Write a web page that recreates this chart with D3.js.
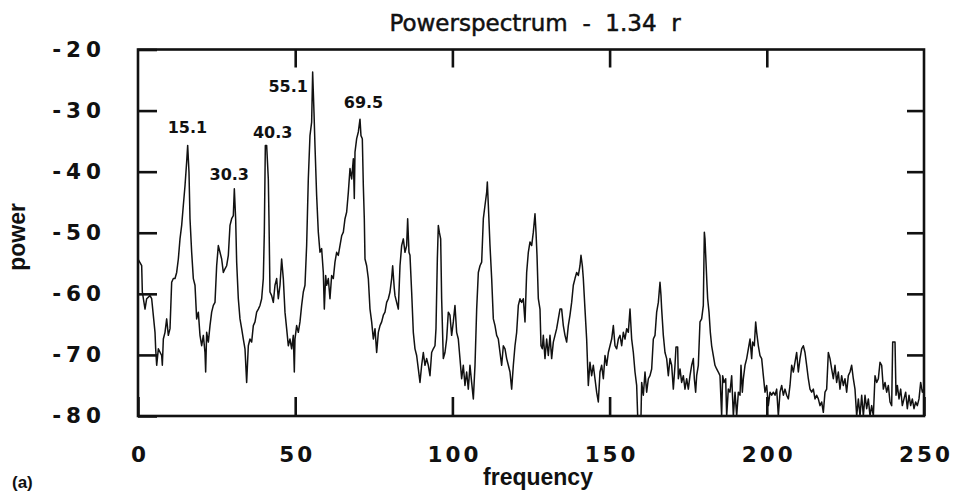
<!DOCTYPE html>
<html>
<head>
<meta charset="utf-8">
<script src="https://cdn.jsdelivr.net/npm/d3@7"></script>
<style>
  body { margin: 0; background: #fff; }
  svg { display: block; }
  .axis text { font-family: "DejaVu Sans"; font-weight: bold; fill: #111; }
  .axis line { stroke: #111; stroke-width: 2.6; }
</style>
</head>
<body>
<svg id="chart" width="954" height="498"></svg>
<script>
// tick values
const xTicks = [0, 50, 100, 150, 200, 250];
const yTicks = [-20, -30, -40, -50, -60, -70, -80];

// annotated peaks
const peakFreqs = [15.1, 30.3, 40.3, 55.1, 69.5];
const peakPowers = [-35.7, -42.8, -35.7, -23.7, -31.4];

// spectrum trace as [frequency, power] (dB)
const spec0to40 = [
  [0,-54.3],[1.17,-55.4],[1.38,-59.7],[2.23,-62.5],[2.76,-60.8],[3.82,-60.3],[4.35,-60.8],[5.41,-66.3],
  [5.62,-69.0],[5.94,-71.7],[6.47,-69.0],[7.53,-70.1],[7.74,-71.7],[8.06,-67.4],[8.59,-66.3],[9.12,-64.1],
  [9.65,-66.8],[10.18,-65.7],[10.71,-58.1],[11.24,-57.5],[11.77,-57.5],[12.30,-56.5],[12.83,-54.3],[13.36,-51.0],
  [13.89,-48.8],[14.42,-45.5],[14.95,-42.3],[15.48,-38.4],[15.80,-35.7],[16.22,-40.1],[16.54,-47.7],[17.07,-53.2],
  [17.60,-57.5],[18.13,-58.6],[18.66,-64.1],[19.19,-63.0],[19.72,-66.8],[20.25,-68.5],[20.78,-66.8],[21.31,-69.6],
  [21.52,-72.8],[21.84,-66.3],[22.37,-67.9],[22.90,-65.2],[23.43,-63.0],[23.96,-61.9],[24.49,-61.4],[25.02,-55.4],
  [25.55,-52.1],[26.08,-53.2],[26.61,-54.3],[27.14,-56.5],[27.67,-55.9],[28.20,-55.4],[28.73,-53.7],[29.26,-48.8],
  [29.79,-47.7],[30.32,-47.2],[30.64,-42.8],[31.06,-47.7],[31.38,-54.8],[31.91,-60.8],[32.44,-64.1],[32.97,-65.7],
  [33.50,-67.4],[34.03,-69.0],[34.56,-74.5],[35.09,-68.5],[35.62,-67.4],[36.15,-67.9],[36.68,-65.2],[37.21,-64.6],
  [37.74,-63.0],[38.27,-62.5],[38.80,-61.9],[39.33,-60.8],[39.86,-57.5],[40.18,-49.9],[40.50,-35.7]
];
const spec40to82 = [
  [40.92,-35.7],[41.45,-41.2],[41.66,-47.7],[41.98,-59.7],[42.51,-60.3],[43.04,-61.4],[43.57,-58.6],[44.10,-57.5],
  [44.63,-60.8],[45.16,-58.6],[45.69,-54.3],[46.22,-57.5],[46.75,-63.0],[47.28,-65.7],[47.81,-68.5],[48.34,-67.4],
  [48.87,-69.0],[49.40,-66.8],[49.72,-72.8],[49.93,-67.4],[50.46,-65.2],[50.99,-66.3],[51.52,-64.6],[52.05,-61.9],
  [52.58,-59.7],[53.11,-58.6],[53.64,-52.1],[54.17,-41.2],[54.70,-34.1],[55.23,-31.9],[55.55,-23.7],[55.98,-30.3],
  [56.29,-35.7],[56.82,-43.9],[57.35,-49.9],[57.88,-53.2],[58.41,-52.6],[58.94,-56.5],[59.26,-62.5],[59.69,-57.0],
  [60.00,-58.6],[60.53,-57.5],[61.06,-60.8],[61.59,-57.0],[62.12,-57.5],[62.65,-54.8],[63.18,-53.2],[63.71,-53.7],
  [64.24,-52.1],[64.78,-50.5],[65.31,-49.9],[65.84,-47.7],[66.37,-46.6],[66.90,-43.4],[67.43,-39.5],[67.96,-41.2],
  [68.49,-37.9],[68.80,-44.4],[69.02,-36.8],[69.55,-34.6],[70.08,-33.5],[70.61,-31.4],[70.92,-34.1],[71.35,-34.6],
  [71.67,-42.3],[71.98,-47.7],[72.20,-54.3],[72.73,-55.4],[73.26,-57.5],[73.79,-62.5],[74.32,-64.6],[74.85,-67.4],
  [75.38,-65.7],[75.91,-69.6],[76.44,-66.3],[76.97,-65.2],[77.50,-64.6],[78.03,-63.5],[78.56,-63.0],[79.09,-61.4],
  [79.62,-60.8],[80.15,-59.7],[80.68,-57.5],[81.00,-55.4],[81.53,-59.2]
];
const spec82to123 = [
  [81.74,-60.3],[82.27,-61.4],[82.80,-62.5],[83.33,-55.4],[83.86,-52.1],[84.39,-51.0],[84.92,-53.2],[85.45,-52.1],
  [85.77,-47.7],[86.19,-53.2],[86.51,-53.7],[87.04,-59.7],[87.57,-66.3],[88.10,-69.0],[88.63,-70.1],[89.16,-72.3],
  [89.69,-74.5],[90.22,-71.7],[90.75,-69.6],[91.28,-71.7],[91.81,-70.6],[92.34,-71.7],[92.87,-73.4],[93.40,-69.6],
  [93.93,-69.0],[94.46,-68.5],[94.78,-65.7],[95.21,-54.3],[95.52,-48.8],[95.84,-49.9],[96.27,-51.0],[96.58,-60.8],
  [97.11,-70.6],[97.64,-69.6],[98.17,-67.4],[98.70,-63.0],[99.23,-63.5],[99.76,-66.8],[100.29,-64.6],[100.82,-61.9],
  [101.35,-66.3],[101.88,-67.4],[102.41,-70.6],[102.94,-73.9],[103.47,-71.7],[104.00,-75.0],[104.53,-72.8],[105.06,-75.6],
  [105.59,-71.7],[106.12,-74.5],[106.66,-77.2],[107.19,-71.7],[107.72,-62.5],[108.25,-56.5],[108.78,-55.4],[109.31,-54.8],
  [109.84,-47.7],[110.37,-45.5],[110.90,-43.4],[111.11,-41.7],[111.43,-45.5],[111.96,-52.1],[112.49,-57.5],[113.02,-64.1],
  [113.55,-65.2],[114.08,-66.8],[114.61,-67.4],[115.14,-69.6],[115.67,-71.7],[116.20,-68.5],[116.73,-69.0],[117.26,-70.6],
  [117.79,-71.7],[118.32,-72.8],[118.85,-75.6],[119.38,-71.7],[119.91,-68.5],[120.44,-66.3],[120.97,-61.9],[121.50,-60.8],
  [122.03,-61.4],[122.56,-60.8],[123.09,-64.6]
];
const spec123to165 = [
  [123.62,-56.5],[124.15,-53.2],[124.68,-51.5],[125.21,-52.1],[125.74,-49.9],[126.27,-46.9],[126.59,-49.9],[126.91,-53.7],
  [127.33,-60.8],[127.86,-62.5],[128.18,-68.5],[128.60,-69.0],[128.92,-66.8],[129.45,-70.6],[129.98,-67.4],[130.51,-70.1],
  [131.04,-66.8],[131.57,-70.6],[132.10,-67.9],[132.63,-66.8],[133.16,-65.7],[133.69,-64.1],[134.22,-62.5],[134.75,-62.5],
  [135.28,-65.2],[135.81,-66.8],[136.34,-67.9],[136.87,-65.2],[137.40,-63.5],[137.93,-61.4],[138.46,-58.6],[138.99,-57.5],
  [139.52,-56.5],[140.05,-57.0],[140.58,-55.4],[140.90,-53.7],[141.33,-55.4],[141.64,-57.5],[142.17,-62.5],[142.70,-67.4],
  [143.23,-75.0],[143.76,-71.2],[144.29,-73.4],[144.82,-71.7],[145.35,-73.9],[145.88,-76.1],[146.41,-77.7],[146.94,-72.8],
  [147.48,-71.7],[148.01,-73.9],[148.54,-70.1],[149.07,-71.7],[149.60,-69.6],[150.13,-68.5],[150.66,-67.4],[151.19,-65.2],
  [151.72,-68.5],[152.25,-69.0],[152.78,-67.4],[153.31,-66.8],[153.84,-68.5],[154.37,-66.3],[154.90,-67.4],[155.43,-65.7],
  [155.96,-66.3],[156.49,-62.5],[157.02,-67.4],[157.55,-69.6],[158.08,-72.8],[158.61,-75.0],[158.93,-80.0],[159.99,-80.0],
  [160.20,-74.5],[160.73,-76.6],[161.26,-72.8],[161.79,-76.1],[162.32,-73.9],[162.85,-73.4],[163.38,-72.3],[163.91,-67.4],
  [164.44,-66.8]
];
const spec165to206 = [
  [164.97,-63.0],[165.50,-61.4],[166.03,-58.1],[166.35,-60.3],[166.56,-62.5],[167.09,-66.8],[167.62,-69.6],[168.15,-70.6],
  [168.68,-73.4],[169.21,-70.6],[169.74,-71.7],[170.27,-75.6],[170.80,-71.7],[171.12,-68.7],[171.65,-68.7],[171.86,-73.9],
  [172.39,-72.3],[172.92,-74.5],[173.45,-73.4],[173.98,-75.6],[174.51,-73.9],[175.04,-75.6],[175.57,-73.4],[176.10,-71.7],
  [176.63,-70.6],[176.95,-73.9],[177.37,-76.1],[177.69,-73.4],[178.22,-71.7],[178.75,-64.6],[179.28,-64.1],[179.81,-61.9],
  [180.13,-49.9],[180.34,-51.0],[180.66,-54.8],[180.98,-58.6],[181.19,-60.8],[181.62,-63.0],[182.04,-66.3],[182.46,-68.5],
  [182.99,-70.1],[183.52,-71.7],[184.05,-72.3],[184.58,-72.8],[185.11,-73.4],[185.64,-80.0],[185.96,-73.4],[186.39,-74.5],
  [186.92,-73.9],[187.24,-80.0],[187.76,-75.6],[188.29,-76.1],[188.83,-73.4],[189.36,-80.0],[189.89,-76.1],[190.42,-80.0],
  [190.95,-76.1],[191.48,-76.6],[191.79,-71.7],[192.22,-76.1],[192.54,-73.9],[193.07,-71.7],[193.60,-70.6],[194.13,-69.0],
  [194.66,-67.4],[195.19,-70.6],[195.50,-67.9],[196.03,-68.5],[196.46,-64.6],[196.78,-66.3],[197.31,-68.5],[197.84,-70.1],
  [198.37,-70.6],[198.90,-73.4],[199.43,-76.1],[199.96,-75.0],[200.49,-78.3],[201.02,-76.1],[201.55,-76.6],[202.08,-76.1],
  [202.61,-76.6],[203.14,-75.6],[203.67,-80.0],[204.20,-76.1],[204.73,-75.0],[205.26,-76.6],[205.79,-75.6]
];
const spec206to250 = [
  [206.32,-76.6],[206.85,-77.2],[207.38,-75.0],[207.91,-71.7],[208.44,-72.8],[208.97,-71.2],[209.50,-69.6],[210.03,-72.8],
  [210.56,-70.6],[211.09,-69.0],[211.62,-68.5],[212.15,-69.6],[212.68,-71.7],[213.21,-73.9],[213.74,-75.6],[214.27,-76.1],
  [214.80,-75.6],[215.33,-77.2],[215.86,-76.6],[216.39,-77.2],[216.92,-78.3],[217.45,-77.7],[217.98,-79.4],[218.51,-76.1],
  [219.04,-75.6],[219.57,-69.6],[220.10,-70.6],[220.63,-72.3],[221.16,-73.9],[221.69,-71.7],[222.22,-74.5],[222.75,-72.8],
  [223.28,-75.6],[223.81,-73.4],[224.34,-75.0],[224.87,-73.9],[225.40,-76.1],[225.93,-73.4],[226.46,-72.8],[226.99,-71.7],
  [227.52,-73.9],[228.05,-75.6],[228.59,-80.0],[229.12,-77.2],[229.65,-80.0],[230.18,-76.6],[230.71,-80.0],[231.24,-76.6],
  [231.77,-78.8],[232.30,-77.2],[232.83,-80.0],[233.36,-78.3],[233.89,-80.0],[234.42,-73.4],[234.95,-74.5],[235.48,-73.9],
  [236.01,-71.2],[236.54,-71.7],[237.07,-75.6],[237.60,-74.5],[238.13,-76.1],[238.66,-75.0],[239.19,-77.7],[239.72,-78.3],
  [240.04,-67.9],[240.78,-67.9],[241.10,-76.6],[241.52,-75.0],[242.05,-77.2],[242.58,-75.6],[243.11,-78.3],[243.64,-77.2],
  [244.17,-76.1],[244.70,-78.8],[245.23,-76.6],[245.76,-78.3],[246.29,-77.2],[246.82,-78.8],[247.35,-77.7],[247.88,-78.3],
  [248.41,-77.2],[248.94,-74.5],[249.47,-76.1],[250,-75.5]
];

const spectrum = [].concat(spec0to40, spec40to82, spec82to123, spec123to165, spec165to206, spec206to250);

// label offsets from each peak, in pixels
const peakLabelShift = [[2, -12], [-4, -9], [8, -7], [-23, 20], [7, -11]];

const svg = d3.select('#chart');

const x = d3.scaleLinear().domain([0, 250]).range([138, 924]);
const y = d3.scaleLinear().domain([-80, -20]).range([416, 49.5]);

svg.append('defs').append('clipPath').attr('id', 'plot-clip')
  .append('rect')
  .attr('x', x(0)).attr('y', y(-20))
  .attr('width', x(250) - x(0)).attr('height', y(-80) - y(-20));

// spectrum line
svg.append('path')
  .datum(spectrum)
  .attr('clip-path', 'url(#plot-clip)')
  .attr('fill', 'none')
  .attr('stroke', '#111')
  .attr('stroke-width', 1.5)
  .attr('stroke-linejoin', 'round')
  .attr('d', d3.line().x(d => x(d[0])).y(d => y(d[1])));

// frame
svg.append('rect')
  .attr('x', x(0)).attr('y', y(-20))
  .attr('width', x(250) - x(0)).attr('height', y(-80) - y(-20))
  .attr('fill', 'none')
  .attr('stroke', '#111')
  .attr('stroke-width', 2.6);

// left axis with labels, ticks pointing inward
const gLeft = svg.append('g').attr('class', 'axis')
  .attr('transform', `translate(${x(0)},0)`)
  .call(d3.axisLeft(y).tickValues(yTicks).tickSize(-19).tickPadding(32).tickFormat(d => String(d)));
gLeft.select('.domain').remove();
gLeft.selectAll('text').style('font-size', '21.5px').style('letter-spacing', '5px');

// right axis, ticks only
const gRight = svg.append('g').attr('class', 'axis')
  .attr('transform', `translate(${x(250)},0)`)
  .call(d3.axisRight(y).tickValues(yTicks.slice(1, -1)).tickSize(-17).tickFormat(''));
gRight.select('.domain').remove();

// top axis, ticks only
const gTop = svg.append('g').attr('class', 'axis')
  .attr('transform', `translate(0,${y(-20)})`)
  .call(d3.axisTop(x).tickValues(xTicks.slice(1, -1)).tickSize(-18).tickFormat(''));
gTop.select('.domain').remove();

// bottom axis with labels
const gBottom = svg.append('g').attr('class', 'axis')
  .attr('transform', `translate(0,${y(-80)})`)
  .call(d3.axisBottom(x).tickValues(xTicks).tickSize(-19).tickFormat(d => String(d)));
gBottom.select('.domain').remove();
gBottom.selectAll('text')
  .attr('y', 46).attr('dy', null).attr('dx', 1.5)
  .style('font-size', '21.5px').style('letter-spacing', '3px');

// peak annotations
svg.append('g').selectAll('text')
  .data(peakFreqs)
  .join('text')
  .attr('x', (d, i) => x(d) + peakLabelShift[i][0])
  .attr('y', (d, i) => y(peakPowers[i]) + peakLabelShift[i][1])
  .attr('text-anchor', 'middle')
  .style('font-family', '"DejaVu Sans"')
  .style('font-weight', 'bold')
  .style('font-size', '16px')
  .attr('fill', '#111')
  .text(d => d.toFixed(1));

// title and axis titles
svg.append('text')
  .attr('x', 535).attr('y', 31)
  .attr('text-anchor', 'middle')
  .style('font-family', '"DejaVu Sans"')
  .style('font-size', '23px')
  .style('white-space', 'pre')
  .attr('fill', '#111')
  .attr('stroke', '#111')
  .attr('stroke-width', 0.5)
  .text('Powerspectrum  -  1.34  r');

svg.append('text')
  .attr('transform', 'translate(25,237) rotate(-90)')
  .attr('text-anchor', 'middle')
  .style('font-family', '"Liberation Sans"')
  .style('font-weight', 'bold')
  .style('font-size', '23px')
  .attr('fill', '#111')
  .text('power');

svg.append('text')
  .attr('x', 538).attr('y', 485)
  .attr('text-anchor', 'middle')
  .style('font-family', '"Liberation Sans"')
  .style('font-weight', 'bold')
  .style('font-size', '23px')
  .attr('fill', '#111')
  .text('frequency');

svg.append('text')
  .attr('x', 12).attr('y', 488)
  .style('font-family', '"Liberation Sans"')
  .style('font-weight', 'bold')
  .style('font-size', '17px')
  .attr('fill', '#111')
  .text('(a)');
</script>
</body>
</html>
